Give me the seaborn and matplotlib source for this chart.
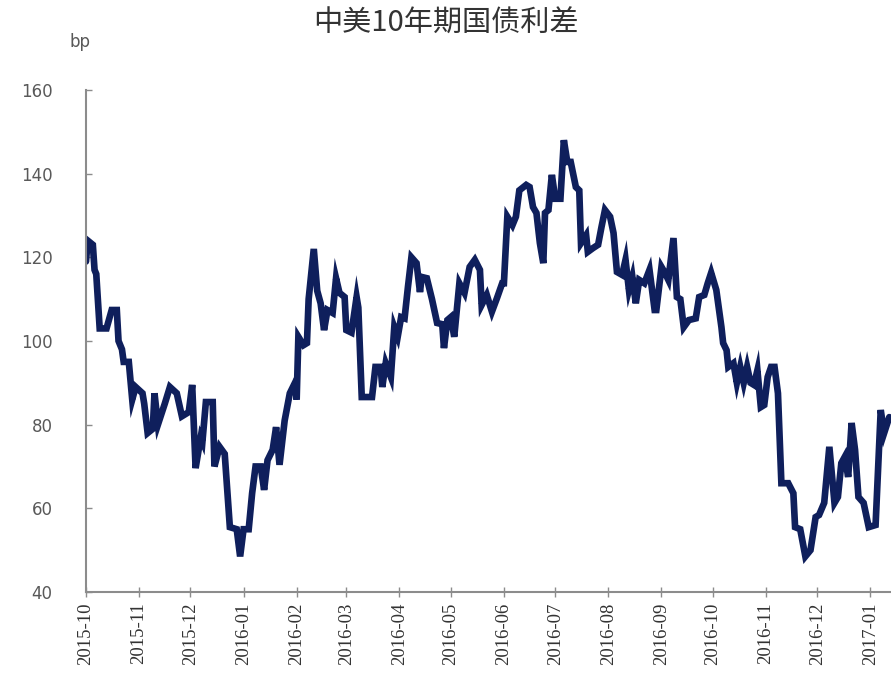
import pandas as pd
import matplotlib
matplotlib.use("Agg")
import matplotlib.pyplot as plt
import matplotlib.dates as mdates
import seaborn as sns

title = "中美10年期国债利差"
unit = "bp"

dates = [
    "2015-10-01", "2015-10-02", "2015-10-05", "2015-10-06", "2015-10-07", "2015-10-09",
    "2015-10-13", "2015-10-16", "2015-10-19", "2015-10-20", "2015-10-22", "2015-10-23",
    "2015-10-26", "2015-10-28", "2015-10-30", "2015-11-03", "2015-11-04", "2015-11-06",
    "2015-11-09", "2015-11-10", "2015-11-12", "2015-11-16", "2015-11-19", "2015-11-23",
    "2015-11-26", "2015-11-30", "2015-12-02", "2015-12-04", "2015-12-07", "2015-12-08",
    "2015-12-10", "2015-12-14", "2015-12-15", "2015-12-18", "2015-12-21", "2015-12-24",
    "2015-12-28", "2015-12-30", "2016-01-01", "2016-01-04", "2016-01-06", "2016-01-08",
    "2016-01-11", "2016-01-13", "2016-01-15", "2016-01-18", "2016-01-20", "2016-01-22",
    "2016-01-25", "2016-01-28", "2016-01-31", "2016-02-01", "2016-02-02", "2016-02-05",
    "2016-02-07", "2016-02-08", "2016-02-11", "2016-02-13", "2016-02-15", "2016-02-17",
    "2016-02-19", "2016-02-22", "2016-02-24", "2016-02-26", "2016-02-29", "2016-03-01",
    "2016-03-04", "2016-03-07", "2016-03-08", "2016-03-10", "2016-03-16", "2016-03-18",
    "2016-03-21", "2016-03-22", "2016-03-24", "2016-03-27", "2016-03-29", "2016-03-31",
    "2016-04-02", "2016-04-04", "2016-04-06", "2016-04-08", "2016-04-11", "2016-04-13",
    "2016-04-14", "2016-04-17", "2016-04-20", "2016-04-23", "2016-04-26", "2016-04-27",
    "2016-04-29", "2016-05-01", "2016-05-03", "2016-05-06", "2016-05-09", "2016-05-12",
    "2016-05-15", "2016-05-18", "2016-05-19", "2016-05-22", "2016-05-25", "2016-05-28",
    "2016-05-31", "2016-06-01", "2016-06-03", "2016-06-06", "2016-06-08", "2016-06-10",
    "2016-06-14", "2016-06-16", "2016-06-18", "2016-06-20", "2016-06-22", "2016-06-24",
    "2016-06-25", "2016-06-27", "2016-06-29", "2016-07-01", "2016-07-04", "2016-07-06",
    "2016-07-08", "2016-07-10", "2016-07-13", "2016-07-15", "2016-07-16", "2016-07-19",
    "2016-07-20", "2016-07-23", "2016-07-26", "2016-07-28", "2016-07-30", "2016-08-02",
    "2016-08-04", "2016-08-06", "2016-08-09", "2016-08-11", "2016-08-13", "2016-08-15",
    "2016-08-17", "2016-08-19", "2016-08-22", "2016-08-25", "2016-08-28", "2016-08-29",
    "2016-09-01", "2016-09-03", "2016-09-05", "2016-09-08", "2016-09-10", "2016-09-12",
    "2016-09-14", "2016-09-17", "2016-09-21", "2016-09-23", "2016-09-26", "2016-09-28",
    "2016-09-30", "2016-10-03", "2016-10-06", "2016-10-07", "2016-10-09", "2016-10-10",
    "2016-10-13", "2016-10-15", "2016-10-17", "2016-10-19", "2016-10-21", "2016-10-23",
    "2016-10-25", "2016-10-27", "2016-10-29", "2016-10-31", "2016-11-02", "2016-11-04",
    "2016-11-06", "2016-11-08", "2016-11-10", "2016-11-14", "2016-11-17", "2016-11-18",
    "2016-11-21", "2016-11-24", "2016-11-27", "2016-11-30", "2016-12-02", "2016-12-05",
    "2016-12-08", "2016-12-11", "2016-12-13", "2016-12-15", "2016-12-17", "2016-12-19",
    "2016-12-21", "2016-12-23", "2016-12-25", "2016-12-28", "2016-12-31", "2017-01-04",
    "2017-01-07", "2017-01-09", "2017-01-12",
]

spread = [
    119, 124, 123, 117, 116, 103,
    103, 107.4, 107.4, 100, 98, 95,
    95, 86, 89, 87.5, 85, 78,
    79, 87.5, 80, 85, 89, 87.5,
    82, 83, 89.5, 69.6, 77, 76,
    85.4, 85.4, 70, 74.7, 73, 55.5,
    55, 48.5, 55, 55, 63.6, 70,
    70, 64.4, 71.5, 74, 79.4, 70.4,
    81, 87.5, 90, 86, 101, 99,
    99.5, 110, 122, 112, 109, 102.6,
    107.4, 106.7, 115, 111.5, 110.5, 102.6,
    102, 110.5, 108, 86.6, 86.6, 93.8,
    93.8, 89, 94.7, 91.4, 103.3, 101,
    105.7, 105.4, 113, 120, 118.6, 111.7,
    115.3, 115, 110, 104.3, 104, 98.3,
    105, 105.7, 101, 113.8, 111.5, 117.7,
    119.4, 117, 108.6, 111, 107, 110.3,
    113.8, 113.8, 129.7, 127.7, 129.7, 136,
    137.3, 136.8, 132, 130.6, 123.4, 118.6,
    130.6, 131.3, 139.7, 134, 134, 148,
    142.8, 142.8, 136.8, 136, 123.4, 125.3,
    121.3, 122.2, 123, 127.3, 131.3, 129.7,
    125.8, 116.5, 115.8, 119.4, 112.2, 115.3,
    109, 114.6, 113.8, 117, 107.4, 107.4,
    117.7, 116.3, 114.6, 124.6, 110.5, 110,
    103.3, 105, 105.4, 110.5, 111, 113.8,
    116.3, 112.2, 103.3, 99.5, 97.8, 93.8,
    94.7, 90, 93.8, 90, 93.8, 90,
    89.5, 93, 84.2, 84.7, 91.4, 93.8,
    93.8, 87.5, 66, 66, 63.6, 55.5,
    55, 48.5, 50, 57.9, 58.4, 61.3,
    74.7, 61.3, 62.7, 70.8, 72.3, 67.5,
    80.4, 74, 62.7, 61.3, 55.5, 56,
    83.5, 78, 81.8,
]

y_ticks = [40, 60, 80, 100, 120, 140, 160]

df = pd.DataFrame({"date": pd.to_datetime(dates), "spread": spread})

sns.set_style("ticks")
plt.rcParams["font.family"] = ["DejaVu Sans", "Noto Sans CJK SC"]

fig = plt.figure(figsize=(8.91, 6.76), dpi=100)
ax = fig.add_axes([0.0965, 0.1243, 0.9035, 0.7426])

sns.lineplot(data=df, x="date", y="spread", ax=ax, color="#0f1f5c",
             linewidth=4.8, solid_joinstyle="miter")

ax.set_xlim(pd.Timestamp("2015-10-01"), pd.Timestamp("2017-01-13"))
ax.set_ylim(40, 160)
ax.set_yticks(y_ticks)
ax.xaxis.set_major_locator(mdates.MonthLocator())
ax.xaxis.set_major_formatter(mdates.DateFormatter("%Y-%m"))
ax.set_xlabel("")
ax.set_ylabel("")

for side in ["top", "right"]:
    ax.spines[side].set_visible(False)
for side in ["left", "bottom"]:
    ax.spines[side].set_color("#8c8c8c")
    ax.spines[side].set_linewidth(1.5)

ax.tick_params(axis="y", direction="in", length=4, width=1, color="#8c8c8c",
               labelsize=12, labelcolor="#595959", pad=24)
ax.tick_params(axis="x", direction="inout", length=7, width=1, color="#8c8c8c",
               labelsize=13.5, labelcolor="#333333", pad=4)
for lab in ax.get_xticklabels():
    lab.set_rotation(90)
    lab.set_family("Liberation Serif")

fig.text(0.5, 0.965, title, ha="center", va="center", fontsize=21,
         color="#333333", family=["Noto Sans CJK SC", "DejaVu Sans"])
fig.text(0.09, 0.938, unit, ha="center", va="center", fontsize=12,
         color="#595959")

fig.savefig("out.png", dpi=100, facecolor="white")
